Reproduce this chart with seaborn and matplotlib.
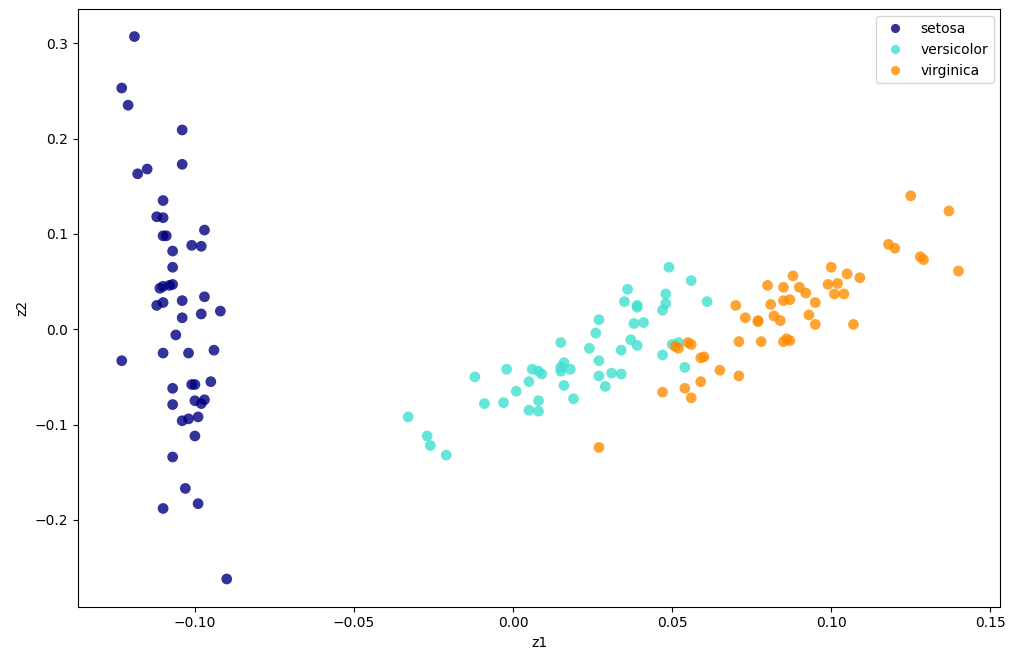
import numpy as np
import pandas as pd
import matplotlib
matplotlib.use("Agg")
import matplotlib.pyplot as plt
import seaborn as sns

# z1/z2 values
setosa_z1 = [-0.119, -0.123, -0.121, -0.104, -0.104, -0.115, -0.118, -0.110, -0.112, -0.110,
             -0.110, -0.109, -0.097, -0.101, -0.098, -0.107, -0.107, -0.111, -0.108, -0.107,
             -0.110, -0.097, -0.104, -0.112, -0.110, -0.092, -0.098, -0.104, -0.106, -0.123,
             -0.110, -0.102, -0.094, -0.100, -0.101, -0.095, -0.107, -0.100, -0.097, -0.098,
             -0.107, -0.099, -0.104, -0.102, -0.100, -0.107, -0.103, -0.099, -0.110, -0.090]
setosa_z2 = [0.307, 0.253, 0.235, 0.209, 0.173, 0.168, 0.163, 0.135, 0.118, 0.117,
             0.098, 0.098, 0.104, 0.088, 0.087, 0.082, 0.065, 0.043, 0.046, 0.047,
             0.045, 0.034, 0.030, 0.025, 0.028, 0.019, 0.016, 0.012, -0.006, -0.033,
             -0.025, -0.025, -0.022, -0.058, -0.058, -0.055, -0.062, -0.075, -0.074, -0.078,
             -0.079, -0.092, -0.096, -0.094, -0.112, -0.134, -0.167, -0.183, -0.188, -0.262]

versicolor_z1 = [-0.033, -0.027, -0.026, -0.021, -0.012, -0.009, -0.003, -0.002, 0.001, 0.005,
                 0.005, 0.006, 0.008, 0.008, 0.008, 0.009, 0.015, 0.015, 0.015, 0.016,
                 0.016, 0.018, 0.019, 0.024, 0.026, 0.027, 0.027, 0.027, 0.029, 0.031,
                 0.034, 0.034, 0.035, 0.036, 0.037, 0.038, 0.039, 0.039, 0.039, 0.041,
                 0.047, 0.047, 0.048, 0.048, 0.049, 0.050, 0.054, 0.056, 0.061, 0.052]
versicolor_z2 = [-0.092, -0.112, -0.122, -0.132, -0.050, -0.078, -0.077, -0.042, -0.065, -0.055,
                 -0.085, -0.042, -0.086, -0.075, -0.044, -0.047, -0.044, -0.040, -0.014, -0.035,
                 -0.059, -0.042, -0.073, -0.020, -0.004, -0.049, -0.033, 0.010, -0.060, -0.046,
                 -0.047, -0.022, 0.029, 0.042, -0.011, 0.006, 0.023, 0.025, -0.017, 0.007,
                 0.020, -0.027, 0.037, 0.027, 0.065, -0.016, -0.040, 0.051, 0.029, -0.014]

virginica_z1 = [0.027, 0.047, 0.051, 0.052, 0.055, 0.056, 0.054, 0.056, 0.059, 0.059,
                0.060, 0.065, 0.070, 0.071, 0.071, 0.073, 0.077, 0.077, 0.078, 0.080,
                0.081, 0.082, 0.084, 0.085, 0.085, 0.086, 0.087, 0.087, 0.088, 0.092,
                0.093, 0.095, 0.095, 0.099, 0.100, 0.101, 0.102, 0.104, 0.105, 0.107,
                0.109, 0.118, 0.120, 0.125, 0.128, 0.129, 0.137, 0.140, 0.085, 0.090]
virginica_z2 = [-0.124, -0.066, -0.018, -0.020, -0.014, -0.016, -0.062, -0.072, -0.055, -0.030,
                -0.029, -0.043, 0.025, -0.013, -0.049, 0.012, 0.008, 0.009, -0.013, 0.046,
                0.026, 0.014, 0.009, 0.044, -0.013, -0.010, -0.012, 0.031, 0.056, 0.038,
                0.015, 0.005, 0.028, 0.047, 0.065, 0.037, 0.048, 0.037, 0.058, 0.005,
                0.054, 0.089, 0.085, 0.140, 0.076, 0.073, 0.124, 0.061, 0.030, 0.044]

species = ["setosa", "versicolor", "virginica"]
colors = ["navy", "turquoise", "darkorange"]

df = pd.DataFrame({
    "z1": setosa_z1 + versicolor_z1 + virginica_z1,
    "z2": setosa_z2 + versicolor_z2 + virginica_z2,
    "target": ["setosa"] * len(setosa_z1) + ["versicolor"] * len(versicolor_z1)
              + ["virginica"] * len(virginica_z1),
})

fig, ax = plt.subplots(figsize=(10.24, 6.63), dpi=100)
fig.subplots_adjust(left=0.076, right=0.977, top=0.986, bottom=0.085)

sns.scatterplot(data=df, x="z1", y="z2", hue="target", hue_order=species,
                palette=colors, alpha=0.8, s=60, edgecolor="none", ax=ax)

ax.set_xlim(-0.1368, 0.1532)
ax.set_ylim(-0.291, 0.3356)
ax.set_xlabel("z1")
ax.set_ylabel("z2")
ax.legend(loc="upper right", markerscale=0.85)

fig.savefig("out.png")
